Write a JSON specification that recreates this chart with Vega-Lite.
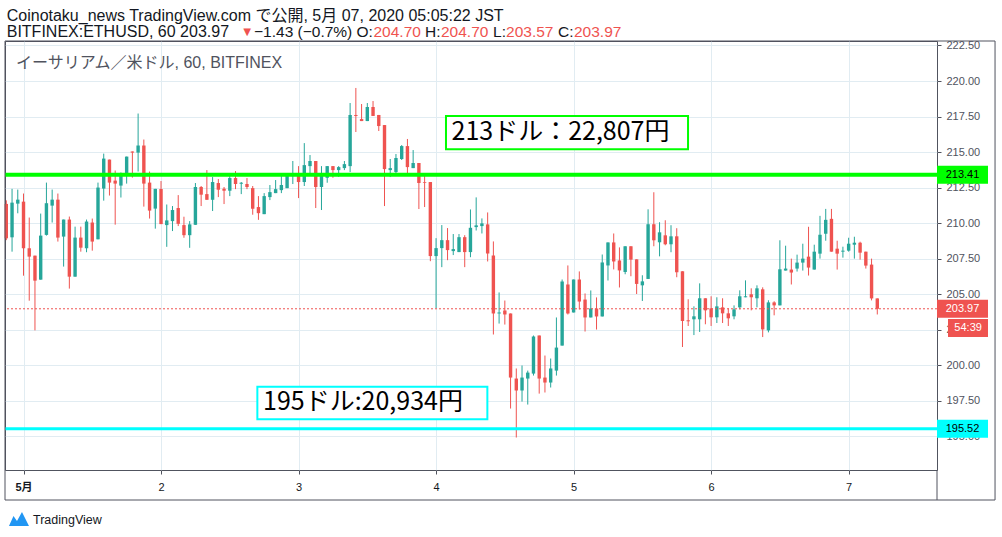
{
  "$schema": "https://vega.github.io/schema/vega-lite/v6.json",
  "width": 932,
  "height": 429,
  "autosize": {"type": "none"},
  "padding": {"left": 5, "top": 41, "right": 65, "bottom": 67},
  "background": "white",
  "config": {
    "view": {"stroke": "#50535e", "strokeWidth": 1},
    "font": "Liberation Sans, Noto Sans CJK JP, sans-serif",
    "text": {"font": "Liberation Sans, Noto Sans CJK JP, sans-serif"}
  },
  "resolve": {"axis": {"x": "independent", "y": "independent"}},
  "datasets": {
    "candles": [
      {"hour": -3, "open": 211.35, "high": 211.6, "low": 208.8, "close": 208.93},
      {"hour": -2, "open": 209.0, "high": 212.41, "low": 207.99, "close": 211.44},
      {"hour": -1, "open": 211.37, "high": 212.36, "low": 210.69, "close": 211.65},
      {"hour": 0, "open": 211.51, "high": 212.08, "low": 206.3, "close": 208.23},
      {"hour": 1, "open": 208.23, "high": 210.39, "low": 204.54, "close": 207.64},
      {"hour": 2, "open": 207.71, "high": 207.71, "low": 202.45, "close": 205.95},
      {"hour": 3, "open": 206.02, "high": 210.67, "low": 206.02, "close": 209.12},
      {"hour": 4, "open": 209.17, "high": 212.85, "low": 209.12, "close": 211.4},
      {"hour": 5, "open": 211.23, "high": 212.36, "low": 210.04, "close": 211.65},
      {"hour": 6, "open": 211.65, "high": 212.08, "low": 208.7, "close": 208.98},
      {"hour": 7, "open": 209.05, "high": 210.25, "low": 206.94, "close": 210.25},
      {"hour": 8, "open": 210.25, "high": 210.46, "low": 205.39, "close": 206.23},
      {"hour": 9, "open": 206.23, "high": 209.75, "low": 206.23, "close": 208.98},
      {"hour": 10, "open": 208.98, "high": 209.75, "low": 207.99, "close": 208.27},
      {"hour": 11, "open": 208.23, "high": 210.25, "low": 207.95, "close": 210.11},
      {"hour": 12, "open": 210.04, "high": 210.32, "low": 208.06, "close": 208.7},
      {"hour": 13, "open": 208.86, "high": 212.85, "low": 208.86, "close": 212.5},
      {"hour": 14, "open": 212.43, "high": 214.89, "low": 211.58, "close": 214.54},
      {"hour": 15, "open": 214.47, "high": 214.47, "low": 211.94, "close": 212.85},
      {"hour": 16, "open": 212.99, "high": 213.7, "low": 209.89, "close": 212.78},
      {"hour": 17, "open": 212.64, "high": 213.56, "low": 211.8, "close": 213.49},
      {"hour": 18, "open": 213.42, "high": 214.68, "low": 212.78, "close": 214.68},
      {"hour": 19, "open": 215.04, "high": 215.04, "low": 213.2, "close": 214.96},
      {"hour": 20, "open": 214.96, "high": 217.71, "low": 213.63, "close": 215.46},
      {"hour": 21, "open": 215.46, "high": 215.88, "low": 211.16, "close": 212.78},
      {"hour": 22, "open": 212.85, "high": 213.63, "low": 210.32, "close": 210.88},
      {"hour": 23, "open": 211.02, "high": 212.41, "low": 209.61, "close": 212.41},
      {"hour": 24, "open": 212.4, "high": 212.96, "low": 209.93, "close": 209.93},
      {"hour": 25, "open": 209.86, "high": 211.31, "low": 208.33, "close": 210.19},
      {"hour": 26, "open": 210.14, "high": 211.2, "low": 209.44, "close": 210.92},
      {"hour": 27, "open": 211.06, "high": 211.97, "low": 209.79, "close": 209.95},
      {"hour": 28, "open": 209.86, "high": 210.45, "low": 208.97, "close": 209.15},
      {"hour": 29, "open": 209.15, "high": 210.14, "low": 208.26, "close": 209.91},
      {"hour": 30, "open": 209.88, "high": 212.82, "low": 209.88, "close": 212.54},
      {"hour": 31, "open": 212.54, "high": 212.61, "low": 211.2, "close": 212.0},
      {"hour": 32, "open": 212.04, "high": 213.73, "low": 211.64, "close": 211.64},
      {"hour": 33, "open": 211.64, "high": 213.24, "low": 210.85, "close": 212.89},
      {"hour": 34, "open": 212.82, "high": 213.1, "low": 211.83, "close": 212.35},
      {"hour": 35, "open": 212.42, "high": 212.54, "low": 211.34, "close": 212.28},
      {"hour": 36, "open": 212.28, "high": 213.52, "low": 211.9, "close": 213.17},
      {"hour": 37, "open": 213.17, "high": 213.66, "low": 212.39, "close": 212.75},
      {"hour": 38, "open": 212.77, "high": 212.89, "low": 212.04, "close": 212.84},
      {"hour": 39, "open": 212.75, "high": 213.17, "low": 212.39, "close": 212.54},
      {"hour": 40, "open": 212.46, "high": 212.61, "low": 210.59, "close": 211.01},
      {"hour": 41, "open": 211.13, "high": 211.9, "low": 210.23, "close": 210.7},
      {"hour": 42, "open": 210.63, "high": 212.11, "low": 210.63, "close": 211.9},
      {"hour": 43, "open": 211.83, "high": 212.68, "low": 211.62, "close": 212.18},
      {"hour": 44, "open": 212.11, "high": 213.03, "low": 212.11, "close": 212.39},
      {"hour": 45, "open": 212.32, "high": 213.52, "low": 212.11, "close": 212.68},
      {"hour": 46, "open": 212.46, "high": 213.38, "low": 212.46, "close": 213.38},
      {"hour": 47, "open": 213.31, "high": 214.37, "low": 212.75, "close": 213.45},
      {"hour": 48, "open": 213.38, "high": 214.01, "low": 211.76, "close": 212.89},
      {"hour": 49, "open": 212.89, "high": 215.63, "low": 212.61, "close": 214.08},
      {"hour": 50, "open": 214.01, "high": 214.79, "low": 213.45, "close": 214.37},
      {"hour": 51, "open": 214.37, "high": 214.37, "low": 211.06, "close": 212.54},
      {"hour": 52, "open": 212.54, "high": 214.01, "low": 210.92, "close": 213.36},
      {"hour": 53, "open": 213.19, "high": 214.01, "low": 212.84, "close": 214.01},
      {"hour": 54, "open": 214.01, "high": 214.01, "low": 213.19, "close": 213.73},
      {"hour": 55, "open": 213.73, "high": 214.01, "low": 213.26, "close": 213.94},
      {"hour": 56, "open": 213.87, "high": 214.37, "low": 213.73, "close": 214.15},
      {"hour": 57, "open": 214.01, "high": 218.45, "low": 213.59, "close": 217.61},
      {"hour": 58, "open": 217.61, "high": 219.51, "low": 216.41, "close": 217.54},
      {"hour": 59, "open": 217.32, "high": 218.38, "low": 217.18, "close": 217.18},
      {"hour": 60, "open": 217.18, "high": 218.45, "low": 217.18, "close": 218.17},
      {"hour": 61, "open": 218.17, "high": 218.59, "low": 217.54, "close": 217.54},
      {"hour": 62, "open": 217.61, "high": 217.61, "low": 216.48, "close": 216.83},
      {"hour": 63, "open": 216.9, "high": 216.9, "low": 211.2, "close": 213.8},
      {"hour": 64, "open": 213.73, "high": 214.51, "low": 213.24, "close": 213.87},
      {"hour": 65, "open": 213.59, "high": 214.86, "low": 213.31, "close": 214.58},
      {"hour": 66, "open": 214.51, "high": 215.49, "low": 214.44, "close": 215.42},
      {"hour": 67, "open": 215.42, "high": 215.92, "low": 213.38, "close": 213.94},
      {"hour": 68, "open": 213.87, "high": 215.14, "low": 213.87, "close": 214.23},
      {"hour": 69, "open": 214.23, "high": 214.23, "low": 210.99, "close": 212.82},
      {"hour": 70, "open": 212.89, "high": 213.31, "low": 211.13, "close": 212.84},
      {"hour": 71, "open": 212.89, "high": 212.89, "low": 207.32, "close": 207.68},
      {"hour": 72, "open": 207.68, "high": 208.94, "low": 204.01, "close": 208.24},
      {"hour": 73, "open": 208.24, "high": 209.86, "low": 206.9, "close": 208.8},
      {"hour": 74, "open": 208.8, "high": 209.65, "low": 207.39, "close": 208.1},
      {"hour": 75, "open": 208.03, "high": 209.23, "low": 207.75, "close": 208.17},
      {"hour": 76, "open": 207.96, "high": 209.23, "low": 207.96, "close": 209.01},
      {"hour": 77, "open": 209.01, "high": 209.15, "low": 206.9, "close": 207.96},
      {"hour": 78, "open": 207.96, "high": 210.96, "low": 207.6, "close": 209.67},
      {"hour": 79, "open": 209.72, "high": 211.81, "low": 209.48, "close": 209.84},
      {"hour": 80, "open": 209.79, "high": 210.33, "low": 209.27, "close": 209.98},
      {"hour": 81, "open": 209.91, "high": 210.75, "low": 207.3, "close": 207.86},
      {"hour": 82, "open": 207.72, "high": 208.71, "low": 202.16, "close": 203.64},
      {"hour": 83, "open": 203.64, "high": 205.12, "low": 202.93, "close": 203.71},
      {"hour": 84, "open": 203.85, "high": 204.55, "low": 202.86, "close": 203.57},
      {"hour": 85, "open": 203.64, "high": 203.64, "low": 196.95, "close": 199.13},
      {"hour": 86, "open": 199.06, "high": 199.77, "low": 194.91, "close": 198.22},
      {"hour": 87, "open": 198.22, "high": 199.98, "low": 197.44, "close": 199.13},
      {"hour": 88, "open": 199.06, "high": 199.62, "low": 197.23, "close": 199.48},
      {"hour": 89, "open": 199.41, "high": 202.09, "low": 199.27, "close": 202.02},
      {"hour": 90, "open": 202.09, "high": 202.09, "low": 198.0, "close": 199.06},
      {"hour": 91, "open": 199.13, "high": 200.68, "low": 198.08, "close": 198.78},
      {"hour": 92, "open": 198.78, "high": 200.47, "low": 198.43, "close": 199.77},
      {"hour": 93, "open": 199.62, "high": 203.36, "low": 199.27, "close": 201.24},
      {"hour": 94, "open": 201.38, "high": 206.03, "low": 201.38, "close": 205.89},
      {"hour": 95, "open": 205.68, "high": 207.02, "low": 203.57, "close": 203.64},
      {"hour": 96, "open": 203.71, "high": 206.03, "low": 203.71, "close": 206.03},
      {"hour": 97, "open": 206.03, "high": 206.6, "low": 203.92, "close": 204.48},
      {"hour": 98, "open": 204.62, "high": 205.05, "low": 202.37, "close": 203.36},
      {"hour": 99, "open": 203.36, "high": 205.26, "low": 203.36, "close": 203.99},
      {"hour": 100, "open": 203.99, "high": 204.77, "low": 202.51, "close": 203.43},
      {"hour": 101, "open": 203.43, "high": 207.79, "low": 203.43, "close": 207.23},
      {"hour": 102, "open": 207.02, "high": 208.64, "low": 205.96, "close": 208.64},
      {"hour": 103, "open": 208.64, "high": 209.27, "low": 206.74, "close": 207.3},
      {"hour": 104, "open": 207.37, "high": 208.29, "low": 205.47, "close": 206.67},
      {"hour": 105, "open": 206.56, "high": 208.37, "low": 206.4, "close": 208.37},
      {"hour": 106, "open": 208.37, "high": 208.37, "low": 206.26, "close": 207.43},
      {"hour": 107, "open": 207.45, "high": 207.45, "low": 205.01, "close": 205.72},
      {"hour": 108, "open": 205.62, "high": 206.33, "low": 204.52, "close": 205.9},
      {"hour": 109, "open": 206.07, "high": 210.97, "low": 206.07, "close": 209.92},
      {"hour": 110, "open": 209.92, "high": 212.17, "low": 208.37, "close": 208.79},
      {"hour": 111, "open": 208.65, "high": 210.06, "low": 207.66, "close": 209.35},
      {"hour": 112, "open": 209.14, "high": 210.2, "low": 208.44, "close": 208.51},
      {"hour": 113, "open": 208.51, "high": 209.85, "low": 207.95, "close": 209.07},
      {"hour": 114, "open": 209.07, "high": 209.64, "low": 206.19, "close": 206.54},
      {"hour": 115, "open": 206.61, "high": 206.61, "low": 201.28, "close": 203.11},
      {"hour": 116, "open": 203.16, "high": 204.64, "low": 202.76, "close": 203.09},
      {"hour": 117, "open": 203.23, "high": 204.14, "low": 202.12, "close": 203.44},
      {"hour": 118, "open": 203.23, "high": 205.76, "low": 202.34, "close": 204.71},
      {"hour": 119, "open": 204.71, "high": 204.71, "low": 202.88, "close": 203.86},
      {"hour": 120, "open": 204.0, "high": 204.85, "low": 202.76, "close": 203.37},
      {"hour": 121, "open": 203.37, "high": 204.78, "low": 202.97, "close": 204.14},
      {"hour": 122, "open": 204.07, "high": 204.71, "low": 202.97, "close": 203.65},
      {"hour": 123, "open": 203.65, "high": 204.0, "low": 202.76, "close": 203.3},
      {"hour": 124, "open": 203.44, "high": 204.21, "low": 203.23, "close": 203.93},
      {"hour": 125, "open": 204.07, "high": 205.27, "low": 203.93, "close": 204.85},
      {"hour": 126, "open": 204.78, "high": 205.97, "low": 204.78, "close": 204.85},
      {"hour": 127, "open": 204.99, "high": 205.41, "low": 203.86, "close": 204.78},
      {"hour": 128, "open": 204.71, "high": 205.62, "low": 204.07, "close": 205.41},
      {"hour": 129, "open": 205.34, "high": 205.48, "low": 201.98, "close": 202.52},
      {"hour": 130, "open": 202.45, "high": 204.57, "low": 202.31, "close": 204.42},
      {"hour": 131, "open": 204.42, "high": 204.5, "low": 203.51, "close": 204.21},
      {"hour": 132, "open": 204.21, "high": 208.79, "low": 204.21, "close": 206.75},
      {"hour": 133, "open": 206.66, "high": 208.41, "low": 206.66, "close": 206.8},
      {"hour": 134, "open": 206.73, "high": 207.5, "low": 205.68, "close": 206.52},
      {"hour": 135, "open": 206.8, "high": 207.78, "low": 206.59, "close": 207.22},
      {"hour": 136, "open": 207.22, "high": 208.55, "low": 206.66, "close": 207.5},
      {"hour": 137, "open": 207.64, "high": 209.74, "low": 206.31, "close": 206.87},
      {"hour": 138, "open": 206.73, "high": 208.48, "low": 206.73, "close": 207.99},
      {"hour": 139, "open": 207.85, "high": 210.51, "low": 207.5, "close": 209.18},
      {"hour": 140, "open": 209.25, "high": 211.0, "low": 208.76, "close": 210.23},
      {"hour": 141, "open": 210.3, "high": 211.0, "low": 207.99, "close": 207.99},
      {"hour": 142, "open": 208.2, "high": 208.76, "low": 206.73, "close": 207.85},
      {"hour": 143, "open": 207.99, "high": 208.34, "low": 207.57, "close": 208.06},
      {"hour": 144, "open": 208.06, "high": 208.97, "low": 207.99, "close": 208.55},
      {"hour": 145, "open": 208.48, "high": 209.04, "low": 207.5, "close": 208.62},
      {"hour": 146, "open": 208.62, "high": 208.69, "low": 207.43, "close": 207.92},
      {"hour": 147, "open": 207.99, "high": 207.99, "low": 206.8, "close": 207.01},
      {"hour": 148, "open": 207.08, "high": 207.5, "low": 204.56, "close": 204.7},
      {"hour": 149, "open": 204.7, "high": 204.7, "low": 203.57, "close": 203.97}
    ]
  },
  "data": {"name": "candles"},
  "layer": [
    {
      "mark": {"type": "rule", "strokeWidth": 1},
      "encoding": {
        "x": {
          "field": "hour",
          "type": "quantitative",
          "scale": {"domain": [-3.23, 159.42], "nice": false, "zero": false, "padding": 0},
          "axis": {
            "title": null,
            "orient": "bottom",
            "values": [0, 24, 48, 72, 96, 120, 144],
            "labelExpr": "datum.value == 0 ? '5月' : '' + (datum.value / 24 + 1)",
            "labelFontWeight": {"condition": {"test": "datum.value == 0", "value": "bold"}, "value": "normal"},
            "grid": true,
            "gridColor": "#e1ecf2",
            "domain": false,
            "ticks": true,
            "tickColor": "#50535e",
            "tickSize": 4,
            "labelColor": "#131722",
            "labelFontSize": 11,
            "labelPadding": 7,
            "labelFlush": false
          }
        },
        "y": {
          "field": "low",
          "type": "quantitative",
          "scale": {"domain": [192.625, 222.815], "nice": false, "zero": false, "padding": 0},
          "axis": {
            "title": null,
            "orient": "right",
            "values": [195, 197.5, 200, 202.5, 205, 207.5, 210, 212.5, 215, 217.5, 220, 222.5],
            "format": ".2f",
            "grid": true,
            "gridColor": "#e1ecf2",
            "domain": false,
            "tickColor": "#50535e",
            "tickSize": 4,
            "labelColor": "#50535e",
            "labelFontSize": 11,
            "labelPadding": 5
          }
        },
        "y2": {"field": "high"},
        "color": {"condition": {"test": "datum.close >= datum.open", "value": "#26a69a"}, "value": "#ef5350"}
      }
    },
    {
      "mark": {"type": "bar", "width": 3.4},
      "encoding": {
        "x": {"field": "hour", "type": "quantitative", "axis": null},
        "y": {"field": "open", "type": "quantitative", "axis": null},
        "y2": {"field": "close"},
        "color": {"condition": {"test": "datum.close >= datum.open", "value": "#26a69a"}, "value": "#ef5350"}
      }
    },
    {
      "data": {"values": [{"price": 203.97}]},
      "mark": {"type": "rule", "color": "#ef5350", "strokeWidth": 1, "strokeDash": [2, 2]},
      "encoding": {"y": {"field": "price", "type": "quantitative", "axis": null}}
    },
    {
      "data": {"values": [{"price": 213.41}]},
      "mark": {"type": "rule", "color": "#00ff00", "strokeWidth": 4},
      "encoding": {"y": {"field": "price", "type": "quantitative", "axis": null}}
    },
    {
      "data": {"values": [{"price": 195.52}]},
      "mark": {"type": "rule", "color": "#00ffff", "strokeWidth": 3},
      "encoding": {"y": {"field": "price", "type": "quantitative", "axis": null}}
    },
    {
      "data": {"values": [{"label": "213ドル：22,807円"}]},
      "layer": [
        {
          "mark": {"type": "rect", "fill": "white", "stroke": "#00ff00", "strokeWidth": 2},
          "encoding": {
            "x": {"datum": 73.73, "type": "quantitative", "axis": null},
            "x2": {"datum": 115.97},
            "y": {"datum": 217.54, "type": "quantitative", "axis": null},
            "y2": {"datum": 215.19}
          }
        },
        {
          "mark": {"type": "text", "align": "left", "baseline": "middle", "fontSize": 25, "font": "Noto Sans CJK JP", "color": "black"},
          "encoding": {
            "x": {"datum": 74.7, "type": "quantitative", "axis": null},
            "y": {"datum": 216.38, "type": "quantitative", "axis": null},
            "text": {"field": "label"}
          }
        }
      ]
    },
    {
      "data": {"values": [{"label": "195ドル:20,934円"}]},
      "layer": [
        {
          "mark": {"type": "rect", "fill": "white", "stroke": "#00ffff", "strokeWidth": 2},
          "encoding": {
            "x": {"datum": 40.81, "type": "quantitative", "axis": null},
            "x2": {"datum": 80.95},
            "y": {"datum": 198.49, "type": "quantitative", "axis": null},
            "y2": {"datum": 196.19}
          }
        },
        {
          "mark": {"type": "text", "align": "left", "baseline": "middle", "fontSize": 25, "font": "Noto Sans CJK JP", "color": "black"},
          "encoding": {
            "x": {"datum": 41.8, "type": "quantitative", "axis": null},
            "y": {"datum": 197.4, "type": "quantitative", "axis": null},
            "text": {"field": "label"}
          }
        }
      ]
    },
    {
      "data": {"values": [
        {"tag": "213.41", "price": 213.41, "kind": "green"},
        {"tag": "203.97", "price": 203.97, "kind": "red"},
        {"tag": "195.52", "price": 195.52, "kind": "cyan"}
      ]},
      "layer": [
        {
          "mark": {"type": "rect", "height": 18},
          "encoding": {
            "x": {"datum": 159.42, "type": "quantitative", "axis": null},
            "x2": {"datum": 168.32},
            "y": {"field": "price", "type": "quantitative", "axis": null},
            "color": {"field": "kind", "type": "nominal", "legend": null,
              "scale": {"domain": ["green", "red", "cyan"], "range": ["#00ff00", "#ef5350", "#00ffff"]}}
          }
        },
        {
          "mark": {"type": "text", "align": "center", "baseline": "middle", "fontSize": 11},
          "encoding": {
            "x": {"datum": 163.87, "type": "quantitative", "axis": null},
            "y": {"field": "price", "type": "quantitative", "axis": null},
            "text": {"field": "tag"},
            "color": {"condition": {"test": "datum.kind == 'red'", "value": "white"}, "value": "black"}
          }
        }
      ]
    },
    {
      "data": {"values": [{"tag": "54:39", "price": 202.62}]},
      "layer": [
        {
          "mark": {"type": "rect", "height": 18, "color": "#ef5350"},
          "encoding": {
            "x": {"datum": 161.34, "type": "quantitative", "axis": null},
            "x2": {"datum": 168.32},
            "y": {"field": "price", "type": "quantitative", "axis": null}
          }
        },
        {
          "mark": {"type": "text", "align": "center", "baseline": "middle", "fontSize": 11, "color": "white"},
          "encoding": {
            "x": {"datum": 164.85, "type": "quantitative", "axis": null},
            "y": {"field": "price", "type": "quantitative", "axis": null},
            "text": {"field": "tag"}
          }
        }
      ]
    },
    {
      "data": {"values": [{}]},
      "layer": [
        {
          "mark": {"type": "rect", "fillOpacity": 0, "stroke": "#50535e", "strokeWidth": 1},
          "encoding": {
            "x": {"datum": -3.23, "type": "quantitative", "axis": null},
            "x2": {"datum": 169.55},
            "y": {"datum": 222.815, "type": "quantitative", "axis": null},
            "y2": {"datum": 190.513}
          }
        },
        {
          "mark": {"type": "rule", "stroke": "#50535e", "strokeWidth": 1},
          "encoding": {
            "x": {"datum": 159.42, "type": "quantitative", "axis": null},
            "y": {"datum": 192.625, "type": "quantitative", "axis": null},
            "y2": {"datum": 190.513}
          }
        },
        {
          "mark": {"type": "text", "align": "left", "baseline": "alphabetic", "fontSize": 16, "color": "#50535e"},
          "encoding": {
            "x": {"datum": -1.31, "type": "quantitative", "axis": null},
            "y": {"datum": 220.94, "type": "quantitative", "axis": null},
            "text": {"value": "イーサリアム／米ドル, 60, BITFINEX"}
          }
        },
        {
          "mark": {"type": "text", "align": "left", "baseline": "alphabetic", "fontSize": 16, "color": "#131722"},
          "encoding": {
            "x": {"datum": -2.93, "type": "quantitative", "axis": null},
            "y": {"datum": 224.24, "type": "quantitative", "axis": null},
            "text": {"value": "Coinotaku_news TradingView.com で公開, 5月 07, 2020 05:05:22 JST"}
          }
        },
        {
          "mark": {"type": "text", "align": "left", "baseline": "alphabetic", "fontSize": 16, "color": "#131722"},
          "encoding": {
            "x": {"datum": -2.93, "type": "quantitative", "axis": null},
            "y": {"datum": 223.12, "type": "quantitative", "axis": null},
            "text": {"value": "BITFINEX:ETHUSD, 60 203.97"}
          }
        },
        {
          "mark": {"type": "text", "align": "left", "baseline": "alphabetic", "fontSize": 13, "color": "#ef5350"},
          "encoding": {
            "x": {"datum": 37.91, "type": "quantitative", "axis": null},
            "y": {"datum": 223.2, "type": "quantitative", "axis": null},
            "text": {"value": "▼"}
          }
        },
        {
          "mark": {"type": "text", "align": "left", "baseline": "alphabetic", "fontSize": 15.5, "color": "#131722"},
          "encoding": {
            "x": {"datum": 40.23, "type": "quantitative", "axis": null},
            "y": {"datum": 223.12, "type": "quantitative", "axis": null},
            "text": {"value": "−1.43 (−0.7%) O:"}
          }
        },
        {
          "mark": {"type": "text", "align": "left", "baseline": "alphabetic", "fontSize": 15.5, "color": "#ef5350"},
          "encoding": {
            "x": {"datum": 61.08, "type": "quantitative", "axis": null},
            "y": {"datum": 223.12, "type": "quantitative", "axis": null},
            "text": {"value": "204.70"}
          }
        },
        {
          "mark": {"type": "text", "align": "left", "baseline": "alphabetic", "fontSize": 15.5, "color": "#131722"},
          "encoding": {
            "x": {"datum": 70.07, "type": "quantitative", "axis": null},
            "y": {"datum": 223.12, "type": "quantitative", "axis": null},
            "text": {"value": "H:"}
          }
        },
        {
          "mark": {"type": "text", "align": "left", "baseline": "alphabetic", "fontSize": 15.5, "color": "#ef5350"},
          "encoding": {
            "x": {"datum": 72.86, "type": "quantitative", "axis": null},
            "y": {"datum": 223.12, "type": "quantitative", "axis": null},
            "text": {"value": "204.70"}
          }
        },
        {
          "mark": {"type": "text", "align": "left", "baseline": "alphabetic", "fontSize": 15.5, "color": "#131722"},
          "encoding": {
            "x": {"datum": 81.94, "type": "quantitative", "axis": null},
            "y": {"datum": 223.12, "type": "quantitative", "axis": null},
            "text": {"value": "L:"}
          }
        },
        {
          "mark": {"type": "text", "align": "left", "baseline": "alphabetic", "fontSize": 15.5, "color": "#ef5350"},
          "encoding": {
            "x": {"datum": 84.21, "type": "quantitative", "axis": null},
            "y": {"datum": 223.12, "type": "quantitative", "axis": null},
            "text": {"value": "203.57"}
          }
        },
        {
          "mark": {"type": "text", "align": "left", "baseline": "alphabetic", "fontSize": 15.5, "color": "#131722"},
          "encoding": {
            "x": {"datum": 93.28, "type": "quantitative", "axis": null},
            "y": {"datum": 223.12, "type": "quantitative", "axis": null},
            "text": {"value": "C:"}
          }
        },
        {
          "mark": {"type": "text", "align": "left", "baseline": "alphabetic", "fontSize": 15.5, "color": "#ef5350"},
          "encoding": {
            "x": {"datum": 96.07, "type": "quantitative", "axis": null},
            "y": {"datum": 223.12, "type": "quantitative", "axis": null},
            "text": {"value": "203.97"}
          }
        },
        {
          "mark": {"type": "point", "filled": true, "color": "#2196f3", "size": 400, "opacity": 1,
            "shape": "M-1,0.7 L-0.55,-0.3 L-0.2,0.2 L0.3,-0.7 L1,0.7 Z"},
          "encoding": {
            "x": {"datum": -0.79, "type": "quantitative", "axis": null},
            "y": {"datum": 189.18, "type": "quantitative", "axis": null}
          }
        },
        {
          "mark": {"type": "text", "align": "left", "baseline": "alphabetic", "fontSize": 12.5, "color": "#131722"},
          "encoding": {
            "x": {"datum": 1.66, "type": "quantitative", "axis": null},
            "y": {"datum": 188.83, "type": "quantitative", "axis": null},
            "text": {"value": "TradingView"}
          }
        }
      ]
    }
  ]
}
